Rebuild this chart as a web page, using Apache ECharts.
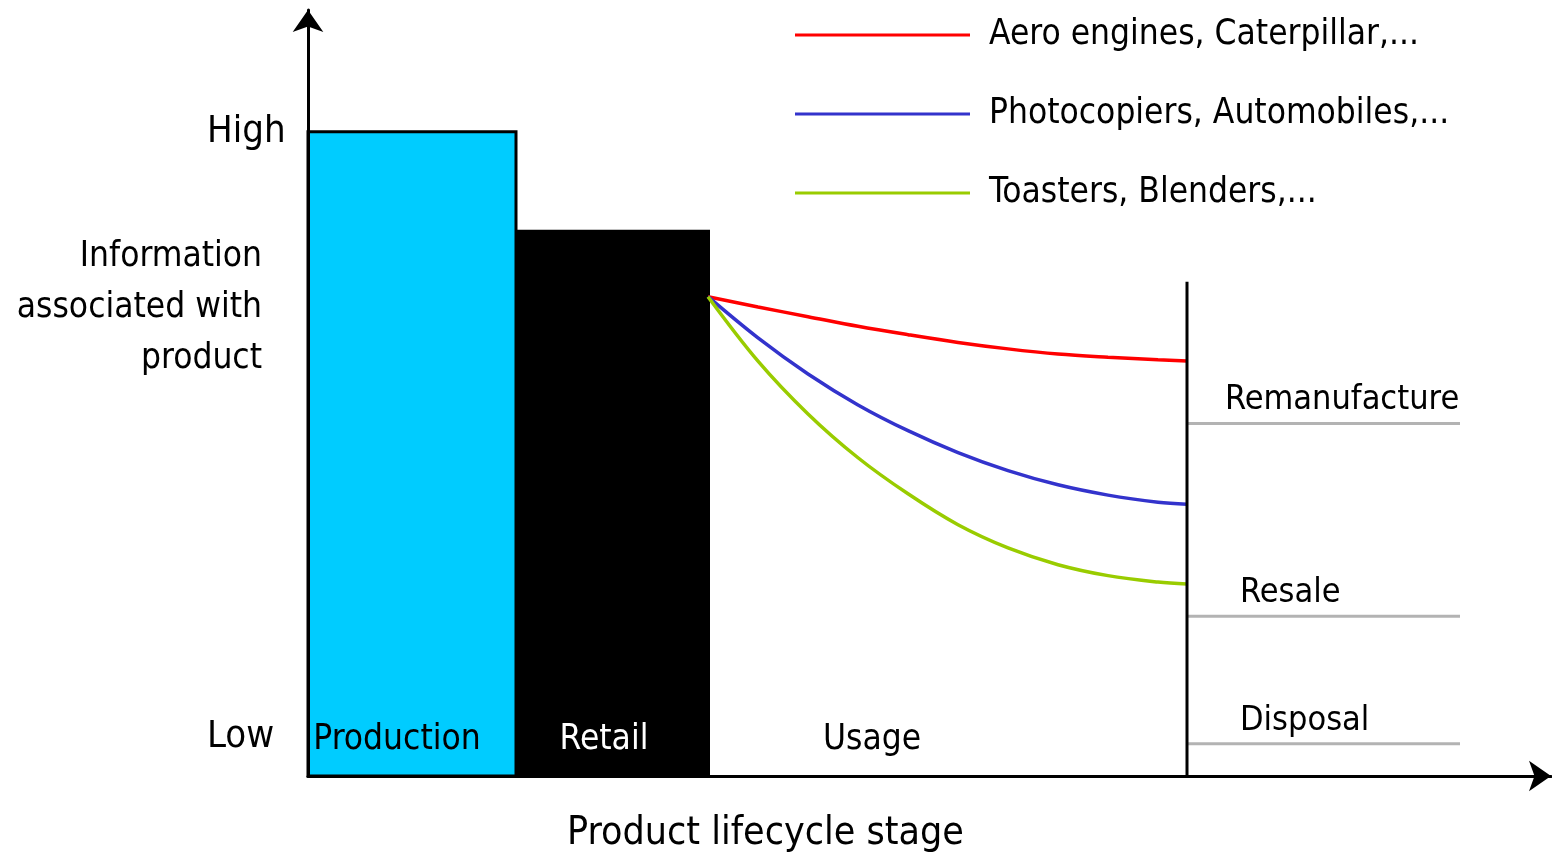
<!DOCTYPE html>
<html>
<head>
<meta charset="utf-8">
<script src="https://cdn.jsdelivr.net/npm/echarts@6/dist/echarts.min.js"></script>
<style>
html, body { margin: 0; padding: 0; background: #fff; }
#main { width: 1552px; height: 856px; }
</style>
</head>
<body>
<div id="main"></div>
<script>
var FONT = "'DejaVu Sans Condensed', 'Liberation Sans Narrow', Roboto, sans-serif";

// stage blocks: start, end and information level (Low = 0, High = 100)
var stageNames = ['Production', 'Retail'];
var stageStart = [0, 20.8];
var stageEnd = [20.8, 40.2];
var stageLevel = [100, 84.8];
var stageColors = ['#00ccff', '#000000'];

// labels along the bottom
var stageLabels = ['Production', 'Retail', 'Usage'];
var stageLabelAt = [8.9, 29.6, 56.4];
var stageLabelColors = ['#000', '#fff', '#000'];

// y axis labels
var levelLabels = ['Low', 'High'];
var levelAt = [6, 100];

// usage curves
var seriesNames = ['Aero engines, Caterpillar,...', 'Photocopiers, Automobiles,...', 'Toasters, Blenders,...'];
var seriesColors = ['#ff0000', '#3333cc', '#99cc00'];
var usageX = [40.0, 45, 50, 55, 60, 65, 70, 75, 80, 85, 87.9];
var redY = [74.4, 72.8, 71.3, 69.8, 68.5, 67.3, 66.3, 65.5, 65.0, 64.6, 64.4];
var blueY = [74.4, 68.0, 62.4, 57.6, 53.6, 50.2, 47.4, 45.2, 43.6, 42.5, 42.2];
var greenY = [74.4, 64.4, 56.2, 49.4, 43.8, 39.0, 35.4, 32.8, 31.1, 30.1, 29.8];

// end of usage + end of life options
var usageEnd = 87.9;
var usageEndTop = 76.7;
var endOfLife = ['Remanufacture', 'Resale', 'Disposal'];
var endOfLifeLevel = [54.7, 24.8, 5.0];
var endOfLifeLabelX = [91.7, 93.2, 93.2];
var endOfLifeFrom = 88.0;
var endOfLifeTo = 115.2;

function pairs(xs, ys) {
    var out = [];
    for (var i = 0; i < xs.length; i++) out.push([xs[i], ys[i]]);
    return out;
}

var curves = [pairs(usageX, redY), pairs(usageX, blueY), pairs(usageX, greenY)];

var dom = document.getElementById('main');
var myChart = echarts.init(dom);

var stageData = [];
for (var i = 0; i < stageNames.length; i++) {
    stageData.push([stageStart[i], stageEnd[i], stageLevel[i]]);
}
var eolData = [];
for (var i = 0; i < endOfLife.length; i++) {
    eolData.push([endOfLifeFrom, endOfLifeTo, endOfLifeLevel[i], endOfLifeLabelX[i]]);
}

function findIndex(list, v) {
    v = Number(v);
    for (var i = 0; i < list.length; i++) {
        if (Math.abs(list[i] - v) < 1e-6) return i;
    }
    return 0;
}

var series = [{
    name: 'stages',
    type: 'custom',
    silent: true,
    data: stageData,
    renderItem: function (params, api) {
        var p0 = api.coord([api.value(0), api.value(2)]);
        var p1 = api.coord([api.value(1), 0]);
        var first = params.dataIndex === 0;
        return {
            type: 'rect',
            shape: { x: p0[0], y: p0[1], width: p1[0] - p0[0], height: p1[1] - p0[1] },
            style: {
                fill: stageColors[params.dataIndex],
                stroke: '#000',
                lineWidth: first ? 3 : 0
            }
        };
    }
}];

for (var i = 0; i < curves.length; i++) {
    series.push({
        name: seriesNames[i],
        type: 'line',
        data: curves[i],
        smooth: 0.35,
        showSymbol: false,
        silent: true,
        itemStyle: { color: seriesColors[i] },
        lineStyle: { color: seriesColors[i], width: 3.5 },
        z: 3
    });
}

series.push({
    name: 'usage end',
    type: 'line',
    data: [[usageEnd, 0], [usageEnd, usageEndTop]],
    showSymbol: false,
    silent: true,
    lineStyle: { color: '#000', width: 3 },
    z: 4
});

series.push({
    name: 'end of life',
    type: 'custom',
    silent: true,
    data: eolData,
    renderItem: function (params, api) {
        var a = api.coord([api.value(0), api.value(2)]);
        var b = api.coord([api.value(1), api.value(2)]);
        var t = api.coord([api.value(3), api.value(2)]);
        return {
            type: 'group',
            children: [{
                type: 'line',
                shape: { x1: a[0], y1: a[1], x2: b[0], y2: b[1] },
                style: { stroke: '#b3b3b3', lineWidth: 3 }
            }, {
                type: 'text',
                x: t[0],
                y: t[1] - 23,
                style: {
                    text: endOfLife[params.dataIndex],
                    fontFamily: FONT,
                    fontSize: 34,
                    fill: '#000',
                    align: 'left',
                    verticalAlign: 'middle'
                }
            }]
        };
    }
});

option = {
    animation: false,
    title: {
        text: 'Product lifecycle stage',
        left: 562,
        top: 805,
        textStyle: { fontFamily: FONT, fontSize: 39, fontWeight: 'normal', color: '#000', lineHeight: 48 }
    },
    legend: {
        data: seriesNames,
        orient: 'vertical',
        left: 790,
        top: 8,
        icon: 'rect',
        itemWidth: 175,
        itemHeight: 3,
        itemGap: 35,
        textStyle: { fontFamily: FONT, fontSize: 35, color: '#000', lineHeight: 44, padding: [0, 0, 0, 14] }
    },
    grid: { left: 308, right: 1, top: 10, bottom: 80 },
    xAxis: {
        type: 'value',
        min: 0,
        max: 124.3,
        z: 5,
        splitLine: { show: false },
        axisTick: { show: false },
        axisLine: { show: true, lineStyle: { color: '#000', width: 3 }, symbol: ['none', 'arrow'], symbolSize: [23, 22] },
        axisLabel: {
            inside: true,
            customValues: stageLabelAt,
            margin: 36,
            verticalAlign: 'middle',
            fontFamily: FONT,
            fontSize: 35,
            color: function (value) {
                return stageLabelColors[findIndex(stageLabelAt, value)];
            },
            formatter: function (value) {
                return stageLabels[findIndex(stageLabelAt, value)];
            }
        }
    },
    yAxis: {
        type: 'value',
        min: 0,
        max: 118.9,
        z: 5,
        splitLine: { show: false },
        axisTick: { show: false },
        axisLine: { show: true, lineStyle: { color: '#000', width: 3 }, symbol: ['none', 'arrow'], symbolSize: [23, 22] },
        axisLabel: {
            customValues: levelAt,
            align: 'left',
            margin: 101,
            fontFamily: FONT,
            fontSize: 38,
            color: '#000',
            formatter: function (value) {
                return levelLabels[findIndex(levelAt, value)];
            }
        }
    },
    graphic: [{
        type: 'text',
        x: 262,
        y: 231,
        style: {
            text: 'Information\nassociated with\nproduct',
            fontFamily: FONT,
            fontSize: 35,
            lineHeight: 51,
            align: 'right',
            verticalAlign: 'top',
            fill: '#000'
        }
    }],
    series: series
};

if (option && typeof option === 'object') {
    myChart.setOption(option, true);
}
</script>
</body>
</html>
